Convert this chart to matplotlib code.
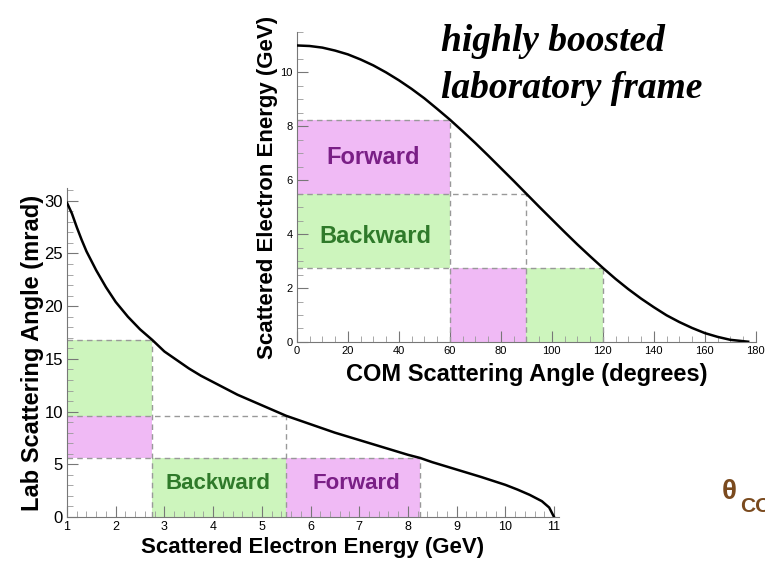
import matplotlib.pyplot as plt
from matplotlib.ticker import MultipleLocator

# curva inferior: energia del electron dispersado vs angulo en laboratorio
lab_energy = [1.0, 1.1, 1.2, 1.3, 1.4, 1.5, 1.6, 1.8, 2.0, 2.25, 2.5, 2.75, 3.0, 3.25, 3.5,
              3.75, 4.0, 4.5, 5.0, 5.5, 6.0, 6.5, 7.0, 7.5, 8.0, 8.25, 8.5, 9.0, 9.5, 10.0,
              10.25, 10.5, 10.75, 10.9, 11.0]
lab_angle = [29.8, 28.8, 27.5, 26.3, 25.2, 24.3, 23.4, 21.8, 20.4, 19.0, 17.8, 16.8, 15.7,
             14.9, 14.1, 13.4, 12.8, 11.6, 10.6, 9.6, 8.8, 8.0, 7.3, 6.6, 5.9, 5.6, 5.2, 4.5,
             3.8, 3.05, 2.6, 2.1, 1.5, 0.9, 0.0]

# curva superior: angulo COM vs energia del electron dispersado
com_angle = [0, 5, 10, 15, 20, 25, 30, 35, 40, 45, 50, 55, 60, 65, 70, 75, 80, 85, 90,
             95, 100, 105, 110, 115, 120, 125, 130, 135, 140, 145, 150, 155, 160, 165,
             170, 177]
com_energy = [11.0, 10.98, 10.92, 10.81, 10.67, 10.48, 10.26, 10.0, 9.71, 9.39, 9.04,
              8.65, 8.25, 7.82, 7.38, 6.92, 6.45, 5.98, 5.5, 5.02, 4.55, 4.08, 3.62, 3.18,
              2.75, 2.34, 1.96, 1.61, 1.29, 0.99, 0.74, 0.52, 0.33, 0.19, 0.08, 0.01]

# regiones: (x0, x1, y0, y1, tipo)
lab_boxes = [(1, 2.75, 9.6, 16.8, 'back'), (1, 2.75, 5.6, 9.6, 'fwd'),
             (2.75, 5.5, 0, 5.6, 'back'), (5.5, 8.25, 0, 5.6, 'fwd')]
com_boxes = [(0, 60, 5.5, 8.25, 'fwd'), (0, 60, 2.75, 5.5, 'back'),
             (60, 90, 0, 2.75, 'fwd'), (90, 120, 0, 2.75, 'back')]

# lineas punteadas: (x, y) esquina hasta los ejes
lab_corners = [(2.75, 16.8), (5.5, 9.6), (8.25, 5.6)]
com_corners = [(60, 8.25), (90, 5.5), (120, 2.75)]

fill_col = {'fwd': '#f0baf5', 'back': '#cdf5bd'}
text_col = {'fwd': '#7a1f86', 'back': '#2f7a2a'}

plt.rcParams['font.family'] = ['Liberation Sans', 'DejaVu Sans']

fig = plt.figure(figsize=(7.65, 5.66), dpi=100)

ax1 = fig.add_axes([0.0876, 0.0866, 0.643, 0.581])
ax2 = fig.add_axes([0.388, 0.3958, 0.600, 0.5477])
ax1.patch.set_alpha(0)
ax2.patch.set_alpha(0)


def draw(ax, boxes, corners, xmin, ymin):
    for x0, x1, y0, y1, kind in boxes:
        ax.fill_between([x0, x1], y0, y1, color=fill_col[kind], lw=0, zorder=1)
    for x, y in corners:
        ax.plot([xmin, x], [y, y], ls=(0, (4, 3)), color='#999999', lw=1, zorder=2)
        ax.plot([x, x], [ymin, y], ls=(0, (4, 3)), color='#999999', lw=1, zorder=2)


draw(ax1, lab_boxes, lab_corners, 1, 0)
ax1.plot(lab_energy, lab_angle, color='black', lw=1.8, zorder=3)
ax1.text(4.1, 3.2, 'Backward', color=text_col['back'], fontsize=16, fontweight='bold',
         ha='center', va='center')
ax1.text(6.95, 3.2, 'Forward', color=text_col['fwd'], fontsize=16, fontweight='bold',
         ha='center', va='center')
ax1.set_xlim(1, 11.1)
ax1.set_ylim(0, 31.2)
ax1.xaxis.set_major_locator(MultipleLocator(1))
ax1.xaxis.set_minor_locator(MultipleLocator(0.2))
ax1.yaxis.set_major_locator(MultipleLocator(5))
ax1.yaxis.set_minor_locator(MultipleLocator(1))
ax1.set_xlabel('Scattered Electron Energy (GeV)', fontsize=16, fontweight='bold', labelpad=3)
ax1.set_ylabel('Lab Scattering Angle (mrad)', fontsize=17, fontweight='bold', labelpad=0)
ax1.tick_params(axis='y', labelsize=12)
ax1.tick_params(axis='x', labelsize=9)

draw(ax2, com_boxes, com_corners, 0, 0)
ax2.plot(com_angle, com_energy, color='black', lw=1.8, zorder=3)
ax2.text(30, 6.85, 'Forward', color=text_col['fwd'], fontsize=17, fontweight='bold',
         ha='center', va='center')
ax2.text(31, 3.9, 'Backward', color=text_col['back'], fontsize=17, fontweight='bold',
         ha='center', va='center')
ax2.set_xlim(0, 180)
ax2.set_ylim(0, 11.5)
ax2.xaxis.set_major_locator(MultipleLocator(20))
ax2.xaxis.set_minor_locator(MultipleLocator(5))
ax2.yaxis.set_major_locator(MultipleLocator(2))
ax2.yaxis.set_minor_locator(MultipleLocator(0.5))
ax2.set_xlabel('COM Scattering Angle (degrees)', fontsize=17, fontweight='bold', labelpad=5)
ax2.set_ylabel('Scattered Electron Energy (GeV)', fontsize=16, fontweight='bold', labelpad=2)
ax2.tick_params(labelsize=8)

for ax in (ax1, ax2):
    ax.spines['top'].set_visible(False)
    ax.spines['right'].set_visible(False)
    for s in ('left', 'bottom'):
        ax.spines[s].set_color('#777777')
    ax.tick_params(which='major', direction='in', length=8, color='#777777', pad=3)
    ax.tick_params(which='minor', direction='in', length=4, color='#999999')

fig.text(0.576, 0.958, 'highly boosted\nlaboratory frame', fontsize=27, fontweight='bold',
         style='italic', family='Liberation Serif', va='top', ha='left', linespacing=1.45)

fig.text(0.943, 0.118, 'θ', fontsize=20, fontweight='bold', color='#7a4a1e', ha='left')
fig.text(0.968, 0.095, 'CO', fontsize=15, fontweight='bold', color='#7a4a1e', ha='left')

plt.savefig('out.png', dpi=100)
